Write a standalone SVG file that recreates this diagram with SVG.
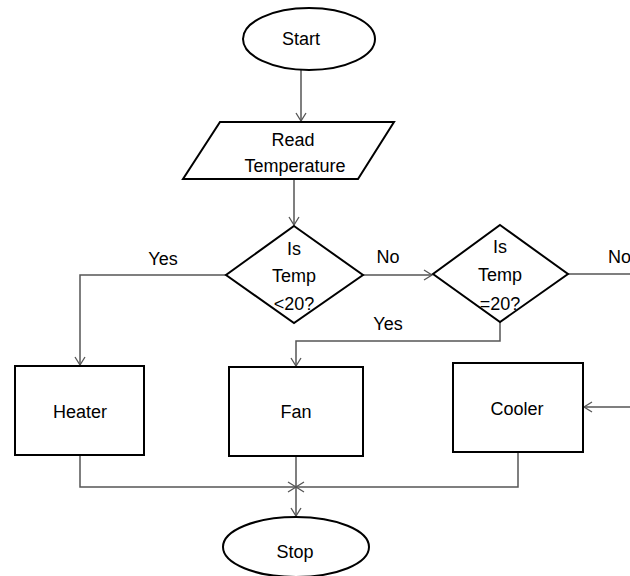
<svg xmlns="http://www.w3.org/2000/svg" width="630" height="576" viewBox="0 0 630 576">
<style>
.s{fill:#fff;stroke:#000;stroke-width:2}
.c{fill:none;stroke:#555;stroke-width:1.5}
text{font-family:"Liberation Sans",Arial,sans-serif;font-size:18px;fill:#000;text-anchor:middle}
</style>
<defs>
<marker id="a" markerWidth="12" markerHeight="12" refX="10" refY="6" orient="auto" markerUnits="userSpaceOnUse">
<path d="M2,1 L10,6 L2,11" fill="none" stroke="#555" stroke-width="1.3"/>
</marker>
</defs>
<rect width="630" height="576" fill="#fff"/>
<g id="connectors">
<line class="c" x1="301" y1="70" x2="301" y2="121" marker-end="url(#a)"/>
<line class="c" x1="294" y1="179" x2="294" y2="225" marker-end="url(#a)"/>
<line class="c" x1="363" y1="275" x2="432" y2="275" marker-end="url(#a)"/>
<polyline class="c" points="226,275 80,275 80,365" marker-end="url(#a)"/>
<polyline class="c" points="500,322 500,341 296,341 296,366" marker-end="url(#a)"/>
<line class="c" x1="568" y1="274" x2="630" y2="274"/>
<line class="c" x1="630" y1="407" x2="584" y2="407" marker-end="url(#a)"/>
<polyline class="c" points="80,455 80,487 296,487" marker-end="url(#a)"/>
<polyline class="c" points="518,452 518,487 296,487" marker-end="url(#a)"/>
<line class="c" x1="296" y1="456" x2="296" y2="516" marker-end="url(#a)"/>
<text x="163" y="265">Yes</text>
<text x="388" y="263">No</text>
<text x="388" y="330">Yes</text>
<text x="608" y="263" style="text-anchor:start">No</text>
</g>
<g id="start">
<ellipse class="s" cx="309" cy="39" rx="66" ry="31"/>
<text x="301" y="45">Start</text>
</g>
<g id="read">
<polygon class="s" points="220,122 394,122 358,179 183,179"/>
<text x="293" y="146">Read</text>
<text x="295" y="172">Temperature</text>
</g>
<g id="dec1">
<polygon class="s" points="294,226 363,275 294,323 226,275"/>
<text x="294" y="255">Is</text>
<text x="294" y="282">Temp</text>
<text x="294" y="310">&lt;20?</text>
</g>
<g id="dec2">
<polygon class="s" points="500,225 568,274 500,322 433,274"/>
<text x="500" y="253">Is</text>
<text x="500" y="281">Temp</text>
<text x="500" y="310">=20?</text>
</g>
<g id="heater">
<rect class="s" x="15" y="366" width="129" height="89"/>
<text x="80" y="418">Heater</text>
</g>
<g id="fan">
<rect class="s" x="229" y="367" width="134" height="89"/>
<text x="296" y="418">Fan</text>
</g>
<g id="cooler">
<rect class="s" x="453" y="363" width="130" height="89"/>
<text x="517" y="415">Cooler</text>
</g>
<g id="stop">
<ellipse class="s" cx="296" cy="547" rx="73" ry="30"/>
<text x="295" y="558">Stop</text>
</g>
</svg>
